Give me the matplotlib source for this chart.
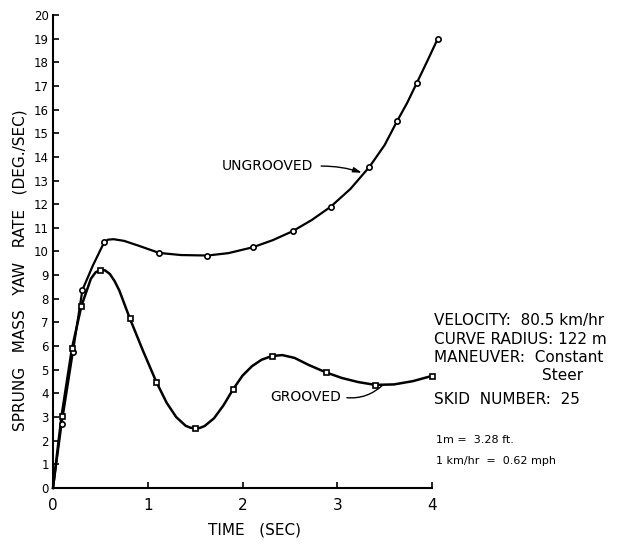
import matplotlib
matplotlib.use("Agg")
import matplotlib.pyplot as plt

#%% Data
# marker positions
ungrooved_t = [0.09, 0.21, 0.31, 0.54, 1.12, 1.63, 2.11, 2.53, 2.93, 3.34, 3.63, 3.84, 4.06]
ungrooved_y = [2.69, 5.76, 8.37, 10.39, 9.94, 9.83, 10.18, 10.86, 11.89, 13.58, 15.5, 17.13, 18.99]
grooved_t = [0.09, 0.20, 0.30, 0.50, 0.81, 1.09, 1.50, 1.90, 2.31, 2.88, 3.40, 4.00]
grooved_y = [3.04, 5.9, 7.7, 9.22, 7.18, 4.49, 2.52, 4.17, 5.58, 4.89, 4.36, 4.74]

# faired curves
ungrooved_curve_t = [0, 0.09, 0.21, 0.31, 0.42, 0.54, 0.58, 0.64, 0.75, 0.9, 1.12, 1.35,
                     1.63, 1.85, 2.11, 2.32, 2.53, 2.73, 2.93, 3.14, 3.34, 3.5, 3.63, 3.74,
                     3.84, 3.95, 4.06]
ungrooved_curve_y = [0, 2.69, 5.76, 8.37, 9.4, 10.39, 10.5, 10.52, 10.45, 10.25, 9.94, 9.85,
                     9.83, 9.93, 10.18, 10.48, 10.86, 11.33, 11.89, 12.65, 13.58, 14.5, 15.5,
                     16.3, 17.13, 18.05, 18.99]
grooved_curve_t = [0, 0.09, 0.20, 0.30, 0.40, 0.45, 0.50, 0.55, 0.60, 0.65, 0.70, 0.81,
                   0.95, 1.09, 1.2, 1.3, 1.4, 1.45, 1.5, 1.55, 1.6, 1.7, 1.8, 1.9, 2.0,
                   2.1, 2.2, 2.31, 2.42, 2.55, 2.7, 2.88, 3.05, 3.22, 3.4, 3.6, 3.8, 4.0]
grooved_curve_y = [0, 3.04, 5.9, 7.7, 8.85, 9.12, 9.22, 9.2, 9.05, 8.75, 8.35, 7.18,
                   5.8, 4.49, 3.6, 3.0, 2.63, 2.55, 2.52, 2.54, 2.62, 2.95, 3.5, 4.17, 4.75,
                   5.15, 5.42, 5.58, 5.62, 5.5, 5.2, 4.89, 4.65, 4.48, 4.36, 4.38, 4.52, 4.74]

x_ticks = [0, 1, 2, 3, 4]
y_ticks = list(range(0, 21))

info_lines = ["VELOCITY:  80.5 km/hr",
              "CURVE RADIUS: 122 m",
              "MANEUVER:  Constant"]
info_y = [320, 340, 358]

#%% Figure
plt.rcParams['font.family'] = ['DejaVu Sans']
fig = plt.figure(figsize=(6.18, 5.45), dpi=100)
ax = fig.add_axes([53/618, 1 - 488/545, 379/618, 473/545])

ax.plot(ungrooved_curve_t, ungrooved_curve_y, color='black', lw=1.6, clip_on=False)
ax.plot(grooved_curve_t, grooved_curve_y, color='black', lw=1.8, clip_on=False)
ax.plot(ungrooved_t, ungrooved_y, 'o', ms=3.8, mfc='white', mec='black', mew=1.2,
        clip_on=False, zorder=4)
ax.plot(grooved_t, grooved_y, 's', ms=3.6, mfc='white', mec='black', mew=1.2,
        clip_on=False, zorder=4)

ax.set_xlim(0, 4)
ax.set_ylim(0, 20)
for side in ['top', 'right']:
    ax.spines[side].set_visible(False)
for side in ['left', 'bottom']:
    ax.spines[side].set_linewidth(1.5)
ax.set_xticks(x_ticks)
ax.set_xticklabels([str(v) for v in x_ticks], fontsize=11)
ax.set_yticks(y_ticks)
ax.set_yticklabels([str(v) for v in y_ticks], fontsize=8.5)
ax.tick_params(axis='both', direction='in', length=4, width=1.2, pad=3)
ax.tick_params(axis='x', pad=7)

# axis titles placed as in the original drawing
fig.text(255/618, 1 - 530/545, 'TIME   (SEC)', fontsize=11, ha='center', va='center')
fig.text(20/618, 1 - 270/545, 'SPRUNG   MASS   YAW   RATE   (DEG./SEC)', fontsize=11,
         rotation=90, ha='center', va='center')

ax.annotate('UNGROOVED', xy=(3.26, 13.33), xytext=(2.26, 13.6), ha='center', va='center',
            fontsize=10,
            arrowprops=dict(arrowstyle='-|>,head_length=0.5,head_width=0.15', color='black',
                            lw=1.0, connectionstyle='arc3,rad=-0.1',
                            relpos=(1.0, 0.5), shrinkA=4, shrinkB=0))
ax.annotate('GROOVED', xy=(3.48, 4.35), xytext=(2.67, 3.85), ha='center', va='center',
            fontsize=10,
            arrowprops=dict(arrowstyle='-', color='black', lw=1.0,
                            connectionstyle='arc3,rad=0.25',
                            relpos=(1.0, 0.5), shrinkA=2, shrinkB=0))

for txt, yp in zip(info_lines, info_y):
    fig.text(434/618, 1 - yp/545, txt, fontsize=11, va='center', ha='left')
fig.text(542/618, 1 - 375/545, 'Steer', fontsize=11, va='center', ha='left')
fig.text(434/618, 1 - 399/545, 'SKID  NUMBER:  25', fontsize=11, va='center', ha='left')
fig.text(436/618, 1 - 440/545, '1m =  3.28 ft.', fontsize=8, va='center', ha='left')
fig.text(436/618, 1 - 461/545, '1 km/hr  =  0.62 mph', fontsize=8, va='center', ha='left')

fig.savefig('out.png', dpi=100)
